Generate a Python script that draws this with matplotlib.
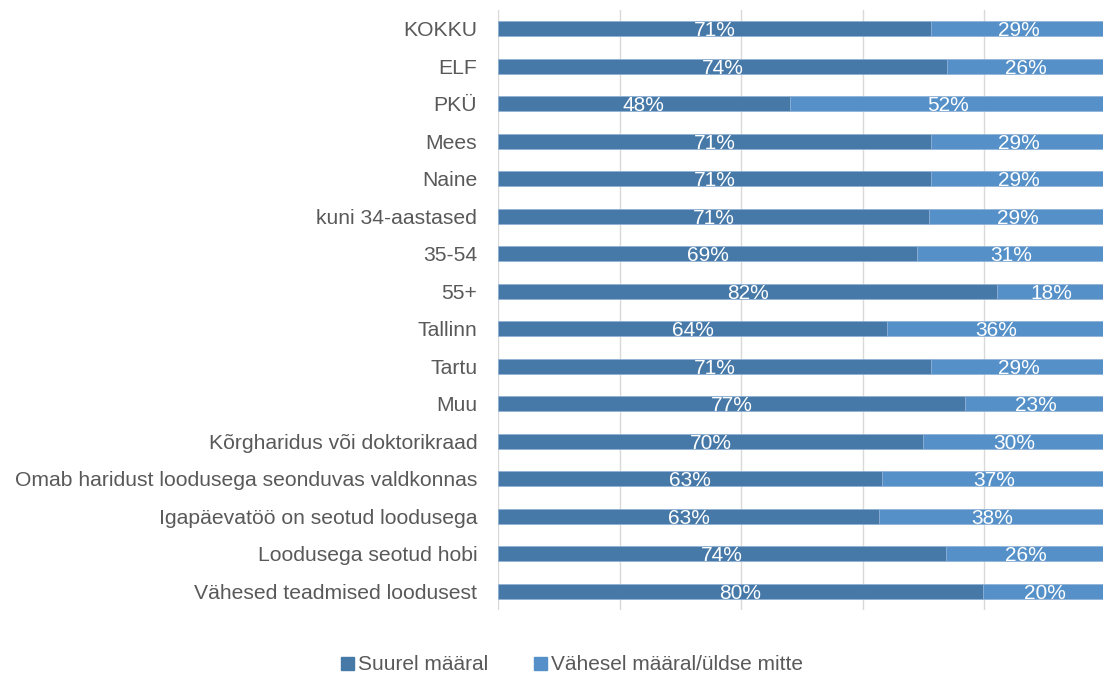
import matplotlib.pyplot as plt
import numpy as np
from matplotlib.patches import Patch

plt.rcParams['font.family'] = ['Liberation Sans', 'DejaVu Sans']

# --- Datos ---
kategooriad = ["KOKKU", "ELF", "PKÜ", "Mees", "Naine", "kuni 34-aastased", "35-54", "55+",
               "Tallinn", "Tartu", "Muu", "Kõrgharidus või doktorikraad",
               "Omab haridust loodusega seonduvas valdkonnas",
               "Igapäevatöö on seotud loodusega", "Loodusega seotud hobi",
               "Vähesed teadmised loodusest"]
suurel = [71.2, 73.8, 48.0, 71.2, 71.2, 70.9, 68.9, 82.1, 64.0, 71.2, 76.8, 69.9, 63.2, 62.7, 73.7, 79.8]
vahesel = [28.8, 26.2, 52.0, 28.8, 28.8, 29.1, 31.1, 17.9, 36.0, 28.8, 23.2, 30.1, 36.8, 37.3, 26.3, 20.2]
silt_suurel = ["71%", "74%", "48%", "71%", "71%", "71%", "69%", "82%", "64%", "71%", "77%", "70%", "63%", "63%", "74%", "80%"]
silt_vahesel = ["29%", "26%", "52%", "29%", "29%", "29%", "31%", "18%", "36%", "29%", "23%", "30%", "37%", "38%", "26%", "20%"]
seeriad = ["Suurel määral", "Vähesel määral/üldse mitte"]

tume = '#4779A8'
hele = '#5591C8'
hall = '#595959'

fig = plt.figure(figsize=(11.03, 6.77), dpi=100)
ax = fig.add_axes([498 / 1103, 1 - 610 / 677, 608 / 1103, 600 / 677])

y = np.arange(len(kategooriad))
ax.barh(y, suurel, height=0.4, color=tume, edgecolor='#8DB0D6', linewidth=0.5, zorder=2)
ax.barh(y, vahesel, left=suurel, height=0.4, color=hele, edgecolor='#8DB0D6', linewidth=0.5, zorder=2)

for i in range(len(kategooriad)):
    ax.text(suurel[i] / 2, y[i] + 0.05, silt_suurel[i], color='white', fontsize=15,
            ha='center', va='center', zorder=3)
    ax.text(suurel[i] + vahesel[i] / 2, y[i] + 0.05, silt_vahesel[i], color='white', fontsize=15,
            ha='center', va='center', zorder=3)

ax.set_xlim(0, 100)
ax.set_ylim(len(kategooriad) - 0.5, -0.5)
ax.set_yticks(y)
ax.set_yticklabels(kategooriad, fontsize=15.2, color=hall)
ax.tick_params(axis='y', length=0, pad=15)
ax.set_xticks([0, 20, 40, 60, 80, 100])
ax.tick_params(axis='x', length=0, labelbottom=False)
ax.grid(axis='x', color='#D9D9D9', linewidth=1, zorder=0)
for s in ax.spines.values():
    s.set_visible(False)

kastid = [Patch(color=tume), Patch(color=hele)]
fig.legend(kastid, seeriad, loc='center', bbox_to_anchor=(572 / 1103, 1 - 665 / 677), ncol=2,
           frameon=False, fontsize=15, handlelength=0.6, handleheight=0.6,
           handletextpad=0.2, columnspacing=2.2, labelcolor=hall)

fig.savefig('out.png', dpi=100)
